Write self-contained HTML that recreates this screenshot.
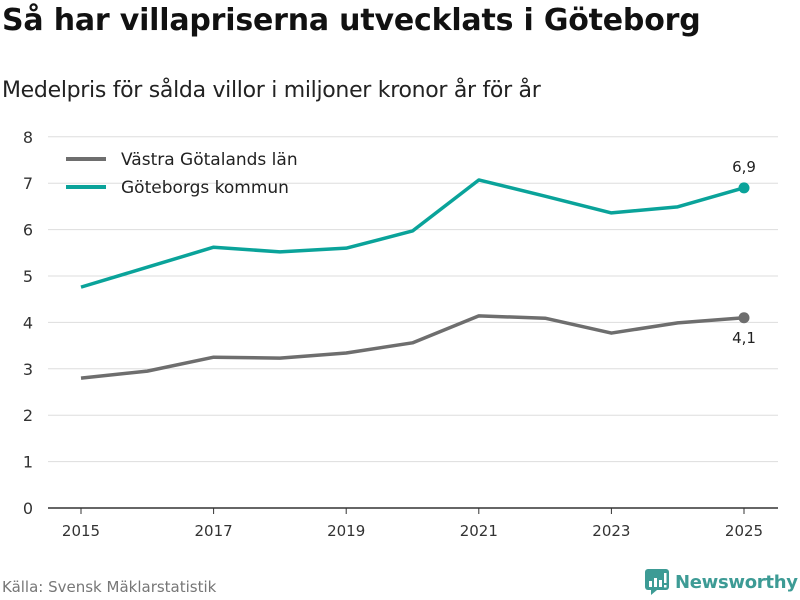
<!DOCTYPE html>
<html><head><meta charset="utf-8"><style>
body{margin:0;width:800px;height:600px;background:#fff;font-family:"DejaVu Sans","Liberation Sans",sans-serif;overflow:hidden;position:relative}
#title{position:absolute;left:2px;top:3px;font-size:30px;font-weight:bold;color:#111;margin:0;letter-spacing:-0.2px;white-space:nowrap}
#sub{position:absolute;left:2px;top:78px;font-size:22px;color:#222;letter-spacing:-0.3px;white-space:nowrap}
#src{position:absolute;left:2px;top:578px;font-size:15px;color:#777}
#logo{position:absolute;left:645px;top:569px;display:flex;align-items:center}
#logo span{font-size:18px;font-weight:bold;color:#3d9b95;margin-left:6px;letter-spacing:-0.3px}
</style></head><body>
<h1 id="title">Så har villapriserna utvecklats i Göteborg</h1>
<div id="sub">Medelpris för sålda villor i miljoner kronor år för år</div>
<svg id="chart" width="800" height="600" style="position:absolute;left:0;top:0"></svg>
<div id="src">Källa: Svensk Mäklarstatistik</div>
<div id="logo">
<svg width="24" height="26" viewBox="0 0 24 26"><rect x="0" y="0" width="24" height="21" rx="3" fill="#3d9b95"/><polygon points="6,21 12,21 6,26" fill="#3d9b95"/><rect x="4" y="12" width="3" height="6" fill="#fff"/><rect x="9" y="9" width="3" height="9" fill="#fff"/><rect x="14" y="11" width="3" height="7" fill="#fff"/><rect x="19" y="4" width="2.5" height="10" fill="#fff"/><rect x="19" y="16" width="2.5" height="2.5" fill="#fff"/></svg>
<span>Newsworthy</span></div>
<script>
const years=[2015,2016,2017,2018,2019,2020,2021,2022,2023,2024,2025];
const vastra=[2.80,2.95,3.25,3.23,3.34,3.56,4.14,4.09,3.77,3.99,4.10];
const gbg=[4.76,5.19,5.62,5.52,5.60,5.97,7.07,6.72,6.36,6.49,6.90];
const yTicks=[0,1,2,3,4,5,6,7,8];
const xTicks=[2015,2017,2019,2021,2023,2025];
const seriesNames=["Västra Götalands län","Göteborgs kommun"];
const lastLabels=["4,1","6,9"];
const svg=document.getElementById('chart');const NS='http://www.w3.org/2000/svg';
const x=v=>81+(v-2015)*66.3, y=v=>508-v*46.4;
function mk(t,a){const e=document.createElementNS(NS,t);for(const k in a)e.setAttribute(k,a[k]);svg.appendChild(e);return e;}
yTicks.forEach(t=>{
const l=mk('line',{x1:48,x2:778,y1:y(t),y2:y(t),stroke:t==0?'#333':'#ddd','stroke-width':t==0?1.5:1});


const tx=mk('text',{x:33,y:y(t)+6,'text-anchor':'end','font-size':16,fill:'#333'});tx.textContent=t;


});
xTicks.forEach(t=>{
const l=mk('line',{x1:x(t),x2:x(t),y1:508,y2:514,stroke:'#333'});


const tx=mk('text',{x:x(t),y:536,'text-anchor':'middle','font-size':15,fill:'#333'});tx.textContent=t;


});
const cols=['#6e6e6e','#0aa39a'];
[vastra,gbg].forEach((s,i)=>{
const p=mk('polyline',{points:s.map((v,j)=>x(years[j])+','+y(v)).join(' '),fill:'none',stroke:cols[i],'stroke-width':3.5,'stroke-linejoin':'round'});


const n=s.length-1;
const c=mk('circle',{cx:x(years[n]),cy:y(s[n]),r:5.5,fill:cols[i]});


const tx=mk('text',{x:x(years[n]),y:i?y(s[n])-16:y(s[n])+25,'text-anchor':'middle','font-size':15,fill:'#222'});tx.textContent=lastLabels[i];


const ly=159+i*28;
const ll=mk('line',{x1:66,x2:106,y1:ly,y2:ly,stroke:cols[i],'stroke-width':4});


const lt=mk('text',{x:121,y:ly+6,'font-size':17,fill:'#222'});lt.textContent=seriesNames[i];


});
</script>
</body></html>
